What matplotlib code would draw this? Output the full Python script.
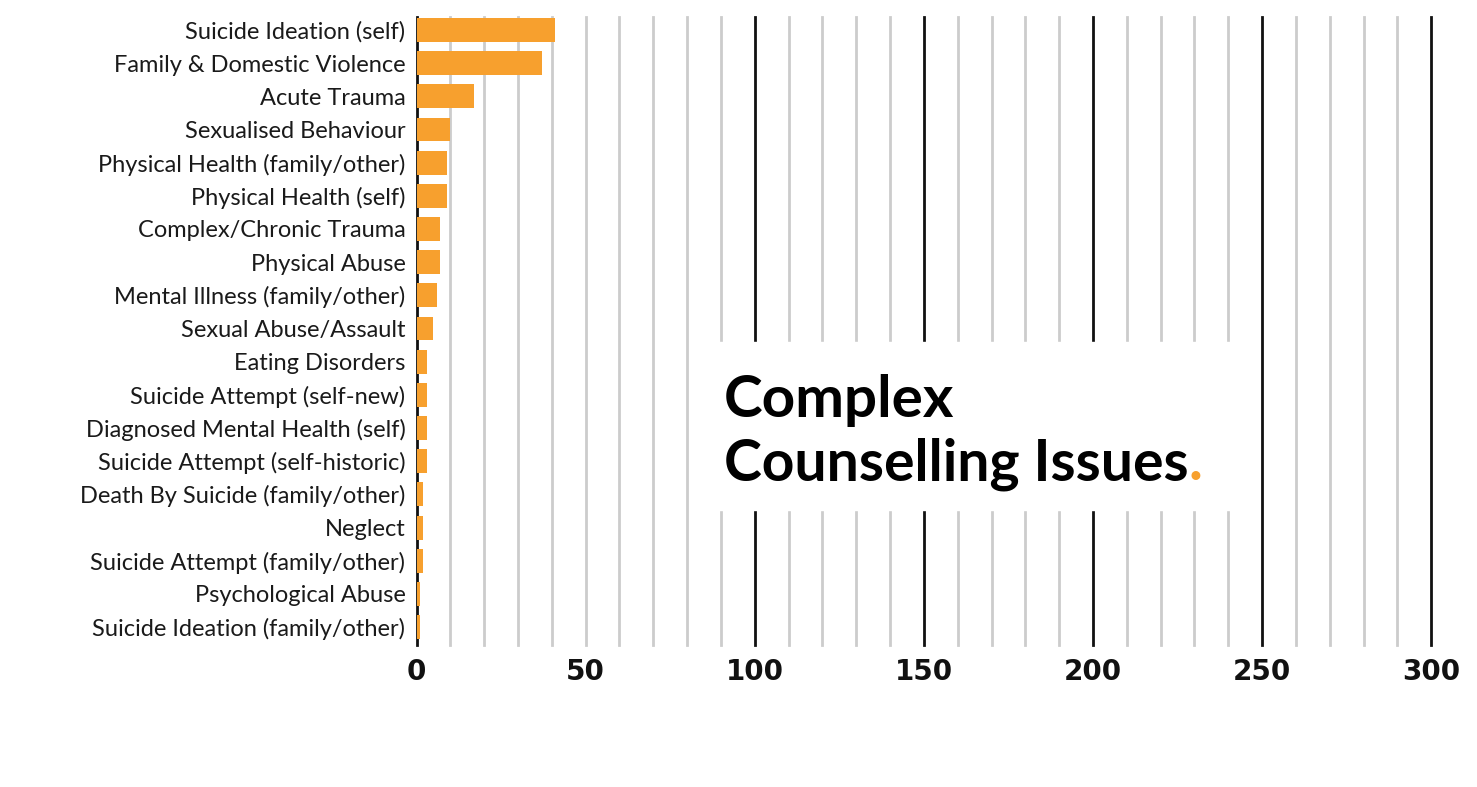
import numpy as np
import matplotlib.pyplot as plt
from matplotlib.patches import Rectangle

categories = [
    'Suicide Ideation (self)', 'Family & Domestic Violence', 'Acute Trauma',
    'Sexualised Behaviour', 'Physical Health (family/other)', 'Physical Health (self)',
    'Complex/Chronic Trauma', 'Physical Abuse', 'Mental Illness (family/other)',
    'Sexual Abuse/Assault', 'Eating Disorders', 'Suicide Attempt (self-new)',
    'Diagnosed Mental Health (self)', 'Suicide Attempt (self-historic)',
    'Death By Suicide (family/other)', 'Neglect', 'Suicide Attempt (family/other)',
    'Psychological Abuse', 'Suicide Ideation (family/other)',
]
counts = [41, 37, 17, 10, 9, 9, 7, 7, 6, 5, 3, 3, 3, 3, 2, 2, 2, 1, 1]
xticks = [0, 50, 100, 150, 200, 250, 300]

orange = '#f7a02e'

fig = plt.figure(figsize=(14.77, 7.87), dpi=100)
ax = fig.add_axes([0.282, 0.180, 0.687, 0.798])

# gridlines every 10, dark ones every 50 from 100 on
for g in range(10, 301, 10):
    dark = g >= 100 and g % 50 == 0
    ax.axvline(g, color='#111111' if dark else '#cccccc', lw=2, zorder=0,
               clip_on=False)

y = np.arange(len(categories))
ax.barh(y, counts, height=0.72, color=orange, zorder=3)

ax.set_xlim(0, 300)
ax.set_ylim(18.55, -0.38)
ax.set_yticks(y)
ax.set_yticklabels(categories, fontsize=17, color='#1a1a1a', family='Lato')
ax.set_xticks(xticks)
ax.set_xticklabels([str(v) for v in xticks], fontsize=20, fontweight='bold',
                   family='DejaVu Sans', color='#111111')
ax.tick_params(axis='y', length=0, pad=8)
ax.tick_params(axis='x', length=0, pad=9)
for s in ['top', 'right', 'bottom']:
    ax.spines[s].set_visible(False)
ax.spines['left'].set_linewidth(2)
ax.spines['left'].set_color('#111111')
ax.spines['left'].set_zorder(2)

# white panel behind the title
fig.patches.append(Rectangle((0.4855, 0.352), 0.3487, 0.2135,
                             transform=fig.transFigure, color='white', zorder=5))

fig.text(0.490, 0.470, 'Complex', fontsize=42, fontweight='bold',
         family='Lato', color='black', zorder=6)
t2 = fig.text(0.490, 0.390, 'Counselling Issues', fontsize=41, fontweight='bold',
              family='Lato', color='black', zorder=6)
fig.canvas.draw()
bb = t2.get_window_extent()
fig.text(bb.x1 / fig.bbox.width, 0.390, '.', fontsize=42, fontweight='bold',
         family='Lato', color=orange, zorder=6)

fig.savefig('out.png', dpi=100)
